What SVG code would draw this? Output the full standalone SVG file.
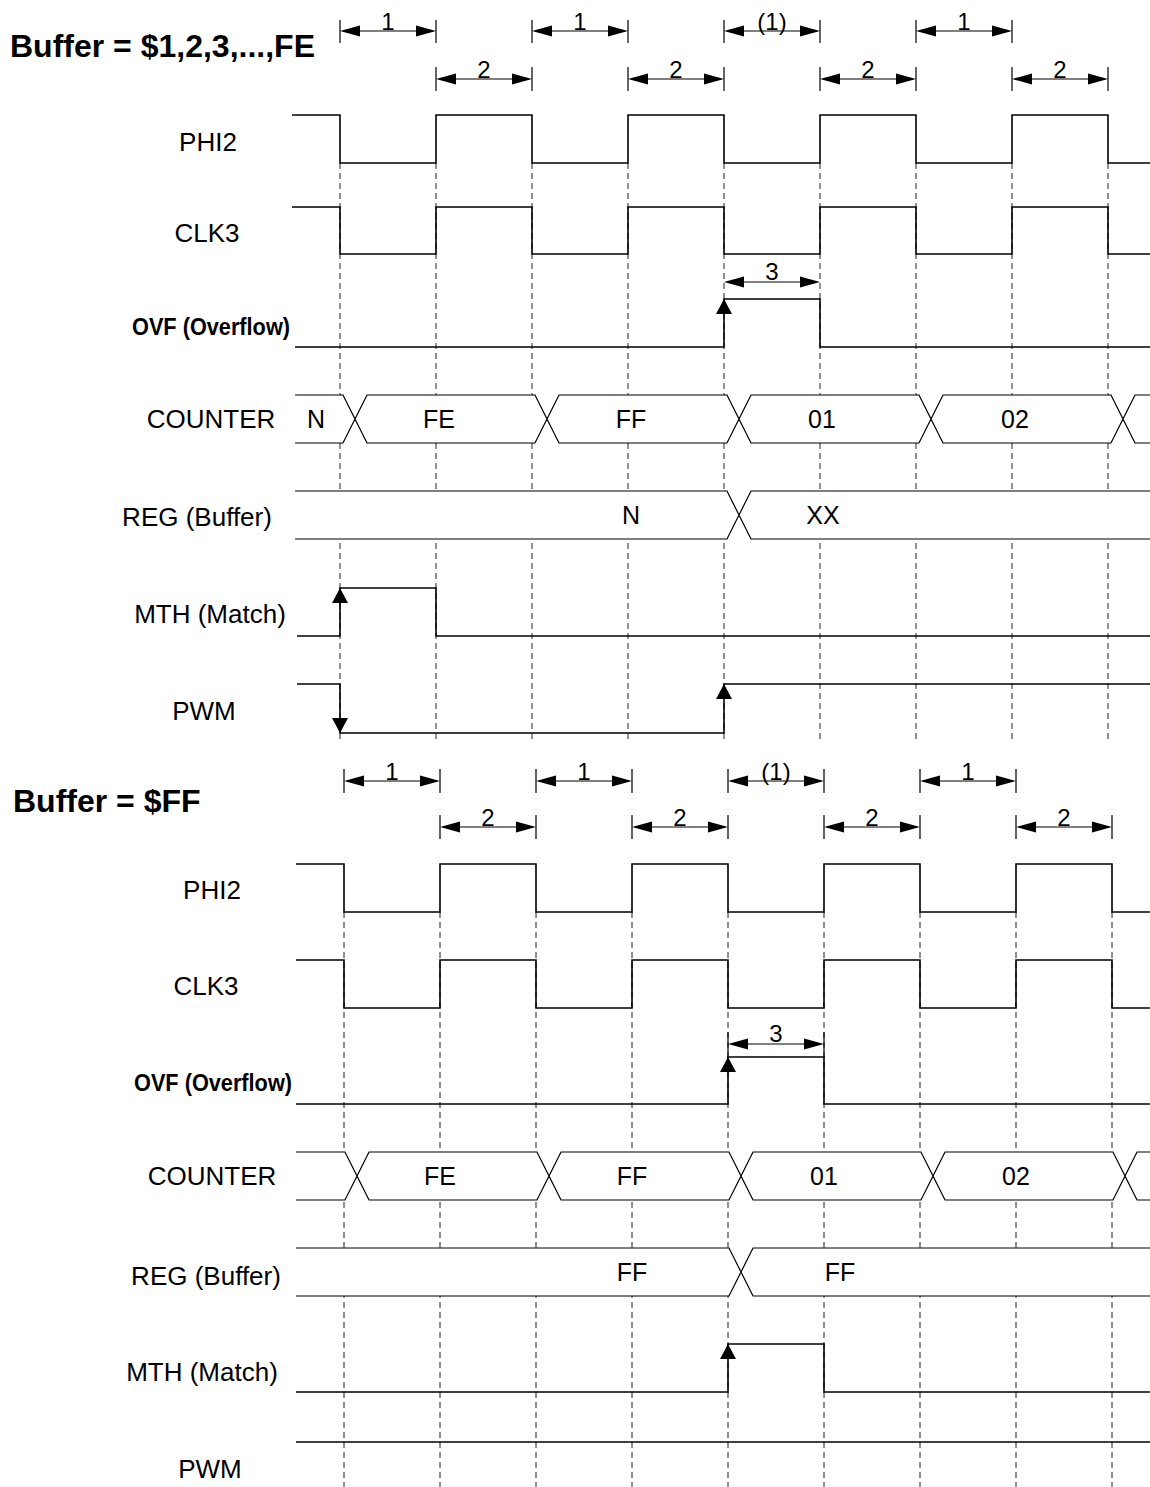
<svg xmlns="http://www.w3.org/2000/svg" xmlns:xlink="http://www.w3.org/1999/xlink" width="1150" height="1487" viewBox="0 0 1150 1487">
<style>
.bg{fill:#fff}
.w{fill:none;stroke:#000;stroke-width:1.6}
.bus{fill:none;stroke:#000;stroke-width:1.2}
.band{fill:#fff;stroke:none}
.grid{fill:none;stroke:#222;stroke-width:1;stroke-dasharray:6,4}
.dim{fill:none;stroke:#000;stroke-width:1.2}
.tick{fill:none;stroke:#000;stroke-width:1.2}
.lbl{font-family:"Liberation Sans",Arial,sans-serif;font-size:26px;fill:#000;text-anchor:middle}
.ovf{font-family:"Liberation Sans",Arial,sans-serif;font-size:24px;font-weight:bold;fill:#000;text-anchor:middle}
.title{font-family:"Liberation Sans",Arial,sans-serif;font-size:32px;font-weight:bold;fill:#000}
.val{font-family:"Liberation Sans",Arial,sans-serif;font-size:25px;fill:#000;text-anchor:middle}
.num{font-family:"Liberation Sans",Arial,sans-serif;font-size:24px;fill:#000;text-anchor:middle}
.ah{fill:#000}
</style>
<defs>
<path id="up" d="M0,0 L-8,15 L8,15 Z"/>
<path id="down" d="M0,0 L-8,-15 L8,-15 Z"/>
<path id="dl" d="M0,0 L20,-5.5 L20,5.5 Z"/>
<path id="dr" d="M0,0 L-20,-5.5 L-20,5.5 Z"/>
</defs>
<rect class="bg" x="0" y="0" width="1150" height="1487"/>

<!-- ================= TOP SECTION ================= -->
<g id="grid-top">
<path class="grid" d="M340,163 V740 M436,163 V740 M532,163 V740 M628,163 V740 M724,163 V740 M820,163 V740 M916,163 V740 M1012,163 V740 M1108,163 V740"/>
</g>
<text id="title-top" class="title" x="10" y="57">Buffer = $1,2,3,...,FE</text>

<g id="dims-top">
<path class="tick" d="M340,20 V43 M436,20 V43 M532,20 V43 M628,20 V43 M724,20 V43 M820,20 V43 M916,20 V43 M1012,20 V43"/>
<path class="dim" d="M345,31 H431 M537,31 H623 M729,31 H815 M921,31 H1007"/>
<g class="ah">
<use xlink:href="#dl" x="340" y="31"/><use xlink:href="#dr" x="436" y="31"/>
<use xlink:href="#dl" x="532" y="31"/><use xlink:href="#dr" x="628" y="31"/>
<use xlink:href="#dl" x="724" y="31"/><use xlink:href="#dr" x="820" y="31"/>
<use xlink:href="#dl" x="916" y="31"/><use xlink:href="#dr" x="1012" y="31"/>
</g>
<text class="num" x="388" y="30">1</text>
<text class="num" x="580" y="30">1</text>
<text class="num" x="772" y="30">(1)</text>
<text class="num" x="964" y="30">1</text>
<path class="tick" d="M436,67 V91 M532,67 V91 M628,67 V91 M724,67 V91 M820,67 V91 M916,67 V91 M1012,67 V91 M1108,67 V91"/>
<path class="dim" d="M441,79 H527 M633,79 H719 M825,79 H911 M1017,79 H1103"/>
<g class="ah">
<use xlink:href="#dl" x="436" y="79"/><use xlink:href="#dr" x="532" y="79"/>
<use xlink:href="#dl" x="628" y="79"/><use xlink:href="#dr" x="724" y="79"/>
<use xlink:href="#dl" x="820" y="79"/><use xlink:href="#dr" x="916" y="79"/>
<use xlink:href="#dl" x="1012" y="79"/><use xlink:href="#dr" x="1108" y="79"/>
</g>
<text class="num" x="484" y="78">2</text>
<text class="num" x="676" y="78">2</text>
<text class="num" x="868" y="78">2</text>
<text class="num" x="1060" y="78">2</text>
</g>

<g id="phi2-top">
<text class="lbl" x="208" y="151">PHI2</text>
<polyline class="w" points="292,115 340,115 340,163 436,163 436,115 532,115 532,163 628,163 628,115 724,115 724,163 820,163 820,115 916,115 916,163 1012,163 1012,115 1108,115 1108,163 1150,163"/>
</g>
<g id="clk3-top">
<text class="lbl" x="207" y="242">CLK3</text>
<polyline class="w" points="292,207 340,207 340,254 436,254 436,207 532,207 532,254 628,254 628,207 724,207 724,254 820,254 820,207 916,207 916,254 1012,254 1012,207 1108,207 1108,254 1150,254"/>
</g>
<g id="ovf-top">
<text class="ovf" x="211" y="335" textLength="158" lengthAdjust="spacingAndGlyphs">OVF (Overflow)</text>
<polyline class="w" points="295,347 724,347 724,299 820,299 820,347 1150,347"/>
<use class="ah" xlink:href="#up" x="724" y="299"/>
<path class="dim" d="M729,282 H815"/>
<use class="ah" xlink:href="#dl" x="724" y="282"/><use class="ah" xlink:href="#dr" x="820" y="282"/>
<text class="num" x="772" y="280">3</text>
</g>
<g id="counter-top">
<text class="lbl" x="211" y="428">COUNTER</text>
<rect class="band" x="295" y="395" width="855" height="48"/>
<path class="bus" d="M295,395 H343 L355,419 L343,443 H295 M355,419 L367,395 H535 L547,419 L535,443 H367 Z M547,419 L559,395 H727 L739,419 L727,443 H559 Z M739,419 L751,395 H919 L931,419 L919,443 H751 Z M931,419 L943,395 H1111 L1123,419 L1111,443 H943 Z M1150,395 H1135 L1123,419 L1135,443 H1150"/>
<text class="val" x="316" y="428">N</text>
<text class="val" x="439" y="428">FE</text>
<text class="val" x="631" y="428">FF</text>
<text class="val" x="822" y="428">01</text>
<text class="val" x="1015" y="428">02</text>
</g>
<g id="reg-top">
<text class="lbl" x="197" y="526">REG (Buffer)</text>
<rect class="band" x="295" y="491" width="855" height="48"/>
<path class="bus" d="M295,491 H727 L739,515 L727,539 H295 M1150,491 H751 L739,515 L751,539 H1150"/>
<text class="val" x="631" y="524">N</text>
<text class="val" x="823" y="524">XX</text>
</g>
<g id="mth-top">
<text class="lbl" x="210" y="623">MTH (Match)</text>
<polyline class="w" points="297,636 340,636 340,588 436,588 436,636 1150,636"/>
<use class="ah" xlink:href="#up" x="340" y="588"/>
</g>
<g id="pwm-top">
<text class="lbl" x="204" y="720">PWM</text>
<polyline class="w" points="297,684 340,684 340,733 724,733 724,684 1150,684"/>
<use class="ah" xlink:href="#down" x="340" y="733"/>
<use class="ah" xlink:href="#up" x="724" y="684"/>
</g>

<!-- ================= BOTTOM SECTION ================= -->
<g id="grid-bottom">
<path class="grid" d="M344,912 V1487 M440,912 V1487 M536,912 V1487 M632,912 V1487 M728,912 V1487 M824,912 V1487 M920,912 V1487 M1016,912 V1487 M1112,912 V1487"/>
</g>
<text id="title-bottom" class="title" x="13" y="812">Buffer = $FF</text>

<g id="dims-bottom">
<path class="tick" d="M344,769 V793 M440,769 V793 M536,769 V793 M632,769 V793 M728,769 V793 M824,769 V793 M920,769 V793 M1016,769 V793"/>
<path class="dim" d="M349,781 H435 M541,781 H627 M733,781 H819 M925,781 H1011"/>
<g class="ah">
<use xlink:href="#dl" x="344" y="781"/><use xlink:href="#dr" x="440" y="781"/>
<use xlink:href="#dl" x="536" y="781"/><use xlink:href="#dr" x="632" y="781"/>
<use xlink:href="#dl" x="728" y="781"/><use xlink:href="#dr" x="824" y="781"/>
<use xlink:href="#dl" x="920" y="781"/><use xlink:href="#dr" x="1016" y="781"/>
</g>
<text class="num" x="392" y="780">1</text>
<text class="num" x="584" y="780">1</text>
<text class="num" x="776" y="780">(1)</text>
<text class="num" x="968" y="780">1</text>
<path class="tick" d="M440,815 V839 M536,815 V839 M632,815 V839 M728,815 V839 M824,815 V839 M920,815 V839 M1016,815 V839 M1112,815 V839"/>
<path class="dim" d="M445,827 H531 M637,827 H723 M829,827 H915 M1021,827 H1107"/>
<g class="ah">
<use xlink:href="#dl" x="440" y="827"/><use xlink:href="#dr" x="536" y="827"/>
<use xlink:href="#dl" x="632" y="827"/><use xlink:href="#dr" x="728" y="827"/>
<use xlink:href="#dl" x="824" y="827"/><use xlink:href="#dr" x="920" y="827"/>
<use xlink:href="#dl" x="1016" y="827"/><use xlink:href="#dr" x="1112" y="827"/>
</g>
<text class="num" x="488" y="826">2</text>
<text class="num" x="680" y="826">2</text>
<text class="num" x="872" y="826">2</text>
<text class="num" x="1064" y="826">2</text>
</g>

<g id="phi2-bottom">
<text class="lbl" x="212" y="899">PHI2</text>
<polyline class="w" points="296,864 344,864 344,912 440,912 440,864 536,864 536,912 632,912 632,864 728,864 728,912 824,912 824,864 920,864 920,912 1016,912 1016,864 1112,864 1112,912 1150,912"/>
</g>
<g id="clk3-bottom">
<text class="lbl" x="206" y="995">CLK3</text>
<polyline class="w" points="296,960 344,960 344,1008 440,1008 440,960 536,960 536,1008 632,1008 632,960 728,960 728,1008 824,1008 824,960 920,960 920,1008 1016,1008 1016,960 1112,960 1112,1008 1150,1008"/>
</g>
<g id="ovf-bottom">
<text class="ovf" x="213" y="1091" textLength="158" lengthAdjust="spacingAndGlyphs">OVF (Overflow)</text>
<polyline class="w" points="296,1104 728,1104 728,1057 824,1057 824,1104 1150,1104"/>
<use class="ah" xlink:href="#up" x="728" y="1057"/>
<path class="tick" d="M728,1032 V1057 M824,1032 V1057"/>
<path class="dim" d="M733,1044 H819"/>
<use class="ah" xlink:href="#dl" x="728" y="1044"/><use class="ah" xlink:href="#dr" x="824" y="1044"/>
<text class="num" x="776" y="1042">3</text>
</g>
<g id="counter-bottom">
<text class="lbl" x="212" y="1185">COUNTER</text>
<rect class="band" x="296" y="1152" width="854" height="48"/>
<path class="bus" d="M296,1152 H345 L357,1176 L345,1200 H296 M357,1176 L369,1152 H537 L549,1176 L537,1200 H369 Z M549,1176 L561,1152 H729 L741,1176 L729,1200 H561 Z M741,1176 L753,1152 H921 L933,1176 L921,1200 H753 Z M933,1176 L945,1152 H1113 L1125,1176 L1113,1200 H945 Z M1150,1152 H1137 L1125,1176 L1137,1200 H1150"/>
<text class="val" x="440" y="1185">FE</text>
<text class="val" x="632" y="1185">FF</text>
<text class="val" x="824" y="1185">01</text>
<text class="val" x="1016" y="1185">02</text>
</g>
<g id="reg-bottom">
<text class="lbl" x="206" y="1285">REG (Buffer)</text>
<rect class="band" x="296" y="1248" width="854" height="48"/>
<path class="bus" d="M296,1248 H729 L741,1272 L729,1296 H296 M1150,1248 H753 L741,1272 L753,1296 H1150"/>
<text class="val" x="632" y="1281">FF</text>
<text class="val" x="840" y="1281">FF</text>
</g>
<g id="mth-bottom">
<text class="lbl" x="202" y="1381">MTH (Match)</text>
<polyline class="w" points="296,1392 728,1392 728,1344 824,1344 824,1392 1150,1392"/>
<use class="ah" xlink:href="#up" x="728" y="1344"/>
</g>
<g id="pwm-bottom">
<text class="lbl" x="210" y="1478">PWM</text>
<polyline class="w" points="296,1442 1150,1442"/>
</g>
</svg>
